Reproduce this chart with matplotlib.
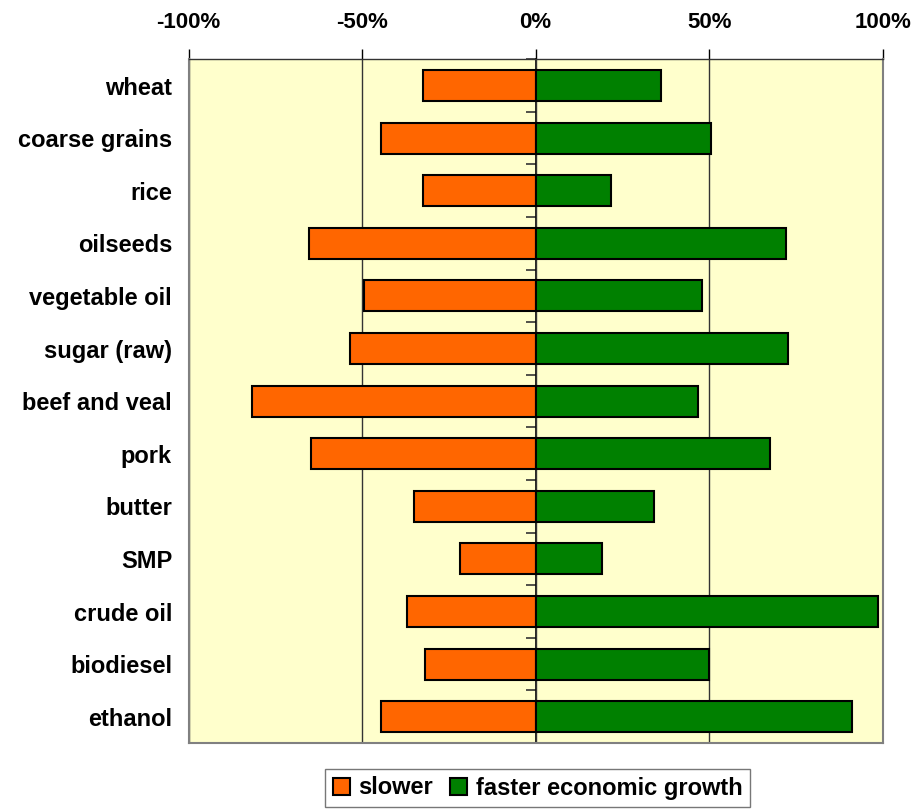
import matplotlib.pyplot as plt
import numpy as np

plt.rcParams["font.family"] = ["Liberation Sans", "DejaVu Sans"]
plt.rcParams["font.weight"] = "bold"

# products (top to bottom) and % change vs baseline
products = ["wheat", "coarse grains", "rice", "oilseeds", "vegetable oil",
            "sugar (raw)", "beef and veal", "pork", "butter", "SMP",
            "crude oil", "biodiesel", "ethanol"]
slower = [-32.4, -44.6, -32.4, -65.2, -49.4, -53.6, -81.7, -64.7,
          -35.0, -21.7, -37.2, -31.8, -44.6]
faster = [36.2, 50.4, 21.8, 72.2, 47.8, 72.6, 46.8, 67.4,
          34.1, 19.2, 98.7, 49.9, 91.2]
x_ticks = [-100, -50, 0, 50, 100]
x_labels = ["-100%", "-50%", "0%", "50%", "100%"]

fig = plt.figure(figsize=(9.16, 8.09), dpi=100)
ax = fig.add_axes([0.206, 0.0816, 0.7576, 0.8451])
ax.set_facecolor("#FFFFCC")

y = np.arange(len(products))
ax.barh(y, slower, height=0.59, color="#FF6600", edgecolor="black",
        linewidth=1.5, label="slower", zorder=3)
ax.barh(y, faster, height=0.59, color="#008000", edgecolor="black",
        linewidth=1.5, label="faster economic growth", zorder=3)

ax.set_xlim(-100, 100)
ax.set_ylim(len(products) - 0.5, -0.5)

# x axis on top
ax.xaxis.tick_top()
ax.set_xticks(x_ticks)
ax.set_xticklabels(x_labels, fontsize=16, fontweight="bold")
ax.tick_params(axis="x", direction="out", length=7, width=1, color="black", pad=12)
ax.xaxis.grid(True, color="#333333", linewidth=1, zorder=0)

# category labels on the left, no ticks
ax.set_yticks(y)
ax.set_yticklabels(products, fontsize=17, fontweight="bold")
ax.tick_params(axis="y", length=0, pad=12)

for side in ["left", "right", "bottom"]:
    ax.spines[side].set_color("#808080")
    ax.spines[side].set_linewidth(1.5)
ax.spines["top"].set_color("#333333")
ax.spines["top"].set_linewidth(1)

# category axis with boundary ticks at x = 0
sec = ax.secondary_yaxis(0.5)
sec.set_yticks(np.arange(len(products) + 1) - 0.5)
sec.set_yticklabels([])
sec.tick_params(axis="y", direction="in", length=7, width=1.2, color="#333333")
sec.spines["left"].set_color("black")
sec.spines["left"].set_linewidth(1.2)
sec.spines["right"].set_color("black")
sec.spines["right"].set_linewidth(1.2)

fig.legend(loc="center", bbox_to_anchor=(537.5 / 916, 1 - 788 / 809), ncol=2,
           frameon=True, fancybox=False, edgecolor="#555555",
           handlelength=0.75, handleheight=0.75, handletextpad=0.35,
           columnspacing=0.7, borderpad=0.3, prop={"weight": "bold", "size": 17})

fig.savefig("out.png", dpi=100)
